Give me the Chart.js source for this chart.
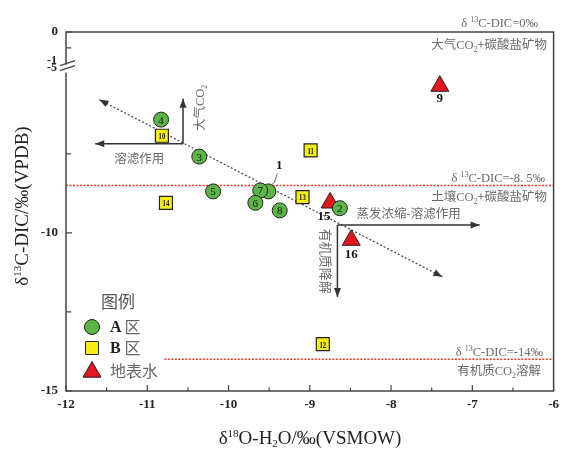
<!DOCTYPE html>
<html lang="zh">
<head>
<meta charset="utf-8" />
<title>δ18O-H2O vs δ13C-DIC</title>
<script src="https://cdn.jsdelivr.net/npm/chart.js@4.4.0/dist/chart.umd.min.js"></script>
<style>
  html, body { margin: 0; padding: 0; background: #fff; }
  #wrap { width: 565px; height: 449px; }
</style>
</head>
<body>
<div id="wrap"><canvas id="chart"></canvas></div>
<script>
// A区 (green circles)
const zoneALabels = ['4', '3', '5', '1', '7', '6', '8', '2'];
const zoneAX = [-10.83, -10.36, -10.19, -9.51, -9.61, -9.67, -9.37, -8.63];
const zoneAY = [-6.42, -7.59, -8.69, -8.69, -8.66, -9.05, -9.29, -9.22];

// B区 (yellow squares)
const zoneBLabels = ['10', '11', '14', '13', '12'];
const zoneBX = [-10.82, -8.99, -10.77, -9.09, -8.84];
const zoneBY = [-6.93, -7.39, -9.05, -8.87, -13.52];

// 地表水 (red triangles)
const surfLabels = ['9', '15', '16'];
const surfX = [-7.40, -8.75, -8.49];
const surfY = [-5.36, -9.05, -10.23];

// dotted trend line
const trendX = [-11.59, -7.37];
const trendY = [-5.79, -11.39];

// process arrows: [origin, end]
const leachLeftX = [-10.56, -11.64];
const leachLeftY = [-7.18, -7.18];
const leachUpX = [-10.56, -10.56];
const leachUpY = [-7.18, -5.76];
const evapRightX = [-8.66, -6.91];
const evapRightY = [-9.75, -9.75];
const evapDownX = [-8.66, -8.66];
const evapDownY = [-9.75, -12.03];

// δ13C-DIC reference lines
const soilLineX = [-12, -6];
const soilLineY = [-8.5, -8.5];
const orgLineX = [-10.79, -6];
const orgLineY = [-14, -14];

// axes
const xTicks = [-12, -11, -10, -9, -8, -7, -6];
const xMinor = [-11.5, -10.5, -9.5, -8.5, -7.5, -6.5];
const yTicks = [0, -10, -15];
const yMinor = [-0.5, -7.5, -12.5];

const serif = '"Liberation Serif", "Times New Roman", serif';
const cjk = '"Noto Sans CJK SC", sans-serif';

// y axis with a break between -1 and -5
function squeeze(v) {
  if (v >= -1) return v;
  if (v <= -5) return v + 3.65;
  return -1 + (v + 1) * 0.0875;
}
function unsqueeze(c) {
  if (c >= -1) return c;
  if (c <= -1.35) return c - 3.65;
  return -1 + (c + 1) / 0.0875;
}
class BrokenScale extends Chart.LinearScale {
  getPixelForValue(value) {
    if (value === null) return NaN;
    const lo = squeeze(this.min), hi = squeeze(this.max);
    return this.getPixelForDecimal((squeeze(value) - lo) / (hi - lo));
  }
  getValueForPixel(pixel) {
    const lo = squeeze(this.min), hi = squeeze(this.max);
    return unsqueeze(lo + this.getDecimalForPixel(pixel) * (hi - lo));
  }
}
BrokenScale.id = 'broken';
BrokenScale.defaults = Chart.LinearScale.defaults;
Chart.register(BrokenScale);

const pts = (xs, ys) => xs.map((x, i) => ({ x: x, y: ys[i] }));

function rich(ctx, x, y, parts, align) {
  let w = 0;
  parts.forEach(p => { ctx.font = p.f; p.w = ctx.measureText(p.t).width; w += p.w; });
  let cx = align === 'right' ? x - w : align === 'center' ? x - w / 2 : x;
  ctx.textAlign = 'left';
  parts.forEach(p => { ctx.font = p.f; ctx.fillText(p.t, cx, y + (p.dy || 0)); cx += p.w; });
}

function arrowHead(ctx, x1, y1, x2, y2) {
  const a = Math.atan2(y2 - y1, x2 - x1);
  const len = 9, half = 3.5;
  ctx.beginPath();
  ctx.moveTo(x2, y2);
  ctx.lineTo(x2 - len * Math.cos(a) + half * Math.sin(a), y2 - len * Math.sin(a) - half * Math.cos(a));
  ctx.lineTo(x2 - len * Math.cos(a) - half * Math.sin(a), y2 - len * Math.sin(a) + half * Math.cos(a));
  ctx.closePath();
  ctx.fill();
}

const decorations = {
  id: 'decorations',
  afterDatasetsDraw(chart) {
    const ctx = chart.ctx;
    const xs = chart.scales.x, ys = chart.scales.y;
    const area = chart.chartArea;
    const px = v => xs.getPixelForValue(v);
    const py = v => ys.getPixelForValue(v);
    ctx.save();

    // arrowheads
    ctx.fillStyle = '#333';
    arrowHead(ctx, px(trendX[1]), py(trendY[1]), px(trendX[0]), py(trendY[0]));
    arrowHead(ctx, px(trendX[0]), py(trendY[0]), px(trendX[1]), py(trendY[1]));
    [[leachLeftX, leachLeftY], [leachUpX, leachUpY], [evapRightX, evapRightY], [evapDownX, evapDownY]].forEach(([ax, ay]) => {
      arrowHead(ctx, px(ax[0]), py(ay[0]), px(ax[1]), py(ay[1]));
    });

    // frame
    ctx.strokeStyle = '#444';
    ctx.lineWidth = 1.5;
    ctx.strokeRect(area.left, area.top, area.right - area.left, area.bottom - area.top);

    // ticks
    ctx.lineWidth = 1.2;
    ctx.beginPath();
    xTicks.forEach(v => { ctx.moveTo(px(v), area.bottom); ctx.lineTo(px(v), area.bottom - 6); });
    xMinor.forEach(v => { ctx.moveTo(px(v), area.bottom); ctx.lineTo(px(v), area.bottom - 3.5); });
    yTicks.forEach(v => { ctx.moveTo(area.left, py(v)); ctx.lineTo(area.left + 6, py(v)); });
    yMinor.forEach(v => { ctx.moveTo(area.left, py(v)); ctx.lineTo(area.left + 5, py(v)); });
    ctx.stroke();

    // axis break
    const b1 = py(-1), b2 = py(-5);
    ctx.fillStyle = '#fff';
    ctx.fillRect(area.left - 2, b1 + 1, 4, b2 - b1 - 3);
    ctx.beginPath();
    ctx.moveTo(area.left - 6, b1 + 2); ctx.lineTo(area.left + 9, b1 - 3);
    ctx.moveTo(area.left - 6, b1 + 7); ctx.lineTo(area.left + 9, b1 + 2);
    ctx.stroke();

    // tick labels
    ctx.fillStyle = '#222';
    ctx.font = 'bold 13px ' + serif;
    ctx.textBaseline = 'middle';
    ctx.textAlign = 'center';
    xTicks.forEach(v => ctx.fillText(String(v), px(v), area.bottom + 14));
    ctx.textAlign = 'right';
    yTicks.forEach(v => ctx.fillText(String(v), area.left - 8, py(v)));
    ctx.font = 'bold 12px ' + serif;
    ctx.fillText('-1', area.left - 9, b1 - 3);
    ctx.fillText('-5', area.left - 9, b1 + 4);

    // axis titles
    ctx.textBaseline = 'alphabetic';
    ctx.fillStyle = '#222';
    rich(ctx, 310, 444, [
      { t: 'δ', f: '19px ' + serif },
      { t: '18', f: '11px ' + serif, dy: -7 },
      { t: 'O-H', f: '19px ' + serif },
      { t: '2', f: '11px ' + serif, dy: 3 },
      { t: 'O/‰(VSMOW)', f: '19px ' + serif }
    ], 'center');
    ctx.save();
    ctx.translate(28, 206);
    ctx.rotate(-Math.PI / 2);
    rich(ctx, 0, 0, [
      { t: 'δ', f: '19px ' + serif },
      { t: '13', f: '11px ' + serif, dy: -7 },
      { t: 'C-DIC/‰(VPDB)', f: '19px ' + serif }
    ], 'center');
    ctx.restore();

    // point numbers
    ctx.textBaseline = 'middle';
    ctx.textAlign = 'center';
    ctx.fillStyle = '#111';
    const metaA = chart.getDatasetMeta(0).data;
    ctx.font = '11px ' + serif;
    zoneALabels.forEach((t, i) => {
      const p = metaA[i];
      if (t === '1') {
        ctx.font = 'bold 13px ' + serif;
        ctx.fillText(t, p.x + 11, p.y - 26);
        ctx.strokeStyle = '#666';
        ctx.lineWidth = 1;
        ctx.beginPath();
        ctx.moveTo(p.x + 9, p.y - 18);
        ctx.lineTo(p.x + 6, p.y - 9);
        ctx.lineTo(p.x + 2, p.y - 6);
        ctx.stroke();
        ctx.font = '11px ' + serif;
      } else {
        ctx.fillText(t, p.x, p.y + 1);
      }
    });
    const metaB = chart.getDatasetMeta(1).data;
    ctx.font = 'bold 9px ' + serif;
    zoneBLabels.forEach((t, i) => {
      const p = metaB[i];
      ctx.save();
      ctx.translate(p.x, p.y + 1);
      ctx.scale(0.75, 1);
      ctx.fillText(t, 0, 0);
      ctx.restore();
    });
    const metaS = chart.getDatasetMeta(2).data;
    ctx.font = 'bold 13px ' + serif;
    const surfOff = [[0, 13], [-6, 14], [0, 15]];
    surfLabels.forEach((t, i) => {
      const p = metaS[i];
      ctx.fillText(t, p.x + surfOff[i][0], p.y + surfOff[i][1]);
    });

    // annotations
    ctx.textBaseline = 'alphabetic';
    ctx.fillStyle = '#6b6b6b';
    const lat = '12.5px ' + serif, cj = '12.5px ' + cjk, sub = '8px ' + serif, sup = '8px ' + serif;
    rich(ctx, 538, 27, [
      { t: 'δ ', f: lat }, { t: '13', f: sup, dy: -5 }, { t: 'C-DIC=0‰', f: lat }
    ], 'right');
    rich(ctx, 547, 49, [
      { t: '大气', f: cj }, { t: 'CO', f: lat }, { t: '2', f: sub, dy: 3 }, { t: '+碳酸盐矿物', f: cj }
    ], 'right');
    rich(ctx, 545, py(-8.5) - 3, [
      { t: 'δ ', f: lat }, { t: '13', f: sup, dy: -5 }, { t: 'C-DIC=-8. 5‰', f: lat }
    ], 'right');
    rich(ctx, 547, py(-8.5) + 16, [
      { t: '土壤', f: cj }, { t: 'CO', f: lat }, { t: '2', f: sub, dy: 3 }, { t: '+碳酸盐矿物', f: cj }
    ], 'right');
    rich(ctx, 543, py(-14) - 3, [
      { t: 'δ ', f: lat }, { t: '13', f: sup, dy: -5 }, { t: 'C-DIC=-14‰', f: lat }
    ], 'right');
    rich(ctx, 541, py(-14) + 16, [
      { t: '有机质', f: cj }, { t: 'CO', f: lat }, { t: '2', f: sub, dy: 3 }, { t: '溶解', f: cj }
    ], 'right');
    rich(ctx, px(evapRightX[0]) + 19, py(evapRightY[0]) - 7, [
      { t: '蒸发浓缩-溶滤作用', f: cj }
    ], 'left');
    rich(ctx, px(-11.1), py(leachLeftY[0]) + 19, [
      { t: '溶滤作用', f: cj }
    ], 'center');
    ctx.save();
    ctx.translate(px(leachUpX[0]) + 21, py(-6.05));
    ctx.rotate(-Math.PI / 2);
    rich(ctx, 0, 0, [
      { t: '大气', f: cj }, { t: 'CO', f: lat }, { t: '2', f: sub, dy: 3 }
    ], 'center');
    ctx.restore();
    ctx.save();
    ctx.translate(px(evapDownX[0]) - 16, py(-10.9));
    ctx.rotate(Math.PI / 2);
    rich(ctx, 0, 0, [{ t: '有机质降解', f: '13px ' + cjk }], 'center');
    ctx.restore();

    // legend
    ctx.fillStyle = '#555';
    ctx.textAlign = 'center';
    ctx.textBaseline = 'middle';
    ctx.font = '17px ' + cjk;
    ctx.fillText('图例', 118, 302);
    const items = [
      { style: 'circle', r: 7.5, bg: '#5cb547', y: 327, a: 'A', b: ' 区' },
      { style: 'rect', r: 9.2, bg: '#f4ee14', y: 348, a: 'B', b: ' 区' },
      { style: 'triangle', r: 10.4, bg: '#e3171d', y: 372, a: '', b: '地表水' }
    ];
    items.forEach(it => {
      ctx.fillStyle = it.bg;
      ctx.strokeStyle = '#222';
      ctx.lineWidth = 1;
      Chart.helpers.drawPoint(ctx, { pointStyle: it.style, radius: it.r, rotation: 0, borderWidth: 1 }, 92, it.y);
      ctx.textBaseline = 'middle';
      if (it.a) {
        ctx.fillStyle = '#222';
        rich(ctx, 110, it.y + 1, [{ t: it.a, f: 'bold 16px ' + serif }], 'left');
        ctx.fillStyle = '#666';
        rich(ctx, 121, it.y, [{ t: it.b, f: '16px ' + cjk }], 'left');
      } else {
        ctx.fillStyle = '#666';
        rich(ctx, 110, it.y - 1, [{ t: it.b, f: '16px ' + cjk }], 'left');
      }
    });

    ctx.restore();
  }
};

new Chart(document.getElementById('chart'), {
  type: 'scatter',
  data: {
    datasets: [
      { label: 'A区', data: pts(zoneAX, zoneAY), pointStyle: 'circle', pointRadius: 7.5,
        backgroundColor: '#5cb547', borderColor: '#222', borderWidth: 1 },
      { label: 'B区', data: pts(zoneBX, zoneBY), pointStyle: 'rect', pointRadius: 9.2,
        backgroundColor: '#f4ee14', borderColor: '#222', borderWidth: 1.2 },
      { label: '地表水', data: pts(surfX, surfY), pointStyle: 'triangle', pointRadius: 10.4,
        backgroundColor: '#e3171d', borderColor: '#222', borderWidth: 1 },
      { data: pts(trendX, trendY), showLine: true, pointRadius: 0, borderColor: '#444',
        borderWidth: 1.2, borderDash: [2, 2] },
      { data: pts(leachLeftX, leachLeftY), showLine: true, pointRadius: 0, borderColor: '#333', borderWidth: 1.5 },
      { data: pts(leachUpX, leachUpY), showLine: true, pointRadius: 0, borderColor: '#333', borderWidth: 1.5 },
      { data: pts(evapRightX, evapRightY), showLine: true, pointRadius: 0, borderColor: '#333', borderWidth: 1.5 },
      { data: pts(evapDownX, evapDownY), showLine: true, pointRadius: 0, borderColor: '#333', borderWidth: 1.5 },
      { data: pts(soilLineX, soilLineY), showLine: true, pointRadius: 0, borderColor: '#ff3a20',
        borderWidth: 1.5, borderDash: [2, 1.5] },
      { data: pts(orgLineX, orgLineY), showLine: true, pointRadius: 0, borderColor: '#ff3a20',
        borderWidth: 1.5, borderDash: [2, 1.5] }
    ]
  },
  options: {
    responsive: true,
    maintainAspectRatio: false,
    animation: false,
    devicePixelRatio: 1,
    layout: { padding: { left: 66, right: 10, top: 32, bottom: 58 } },
    plugins: { legend: { display: false }, tooltip: { enabled: false } },
    scales: {
      x: { type: 'linear', min: -12, max: -6, display: false },
      y: { type: 'broken', min: -15, max: 0, display: false }
    }
  },
  plugins: [decorations]
});
</script>
</body>
</html>
